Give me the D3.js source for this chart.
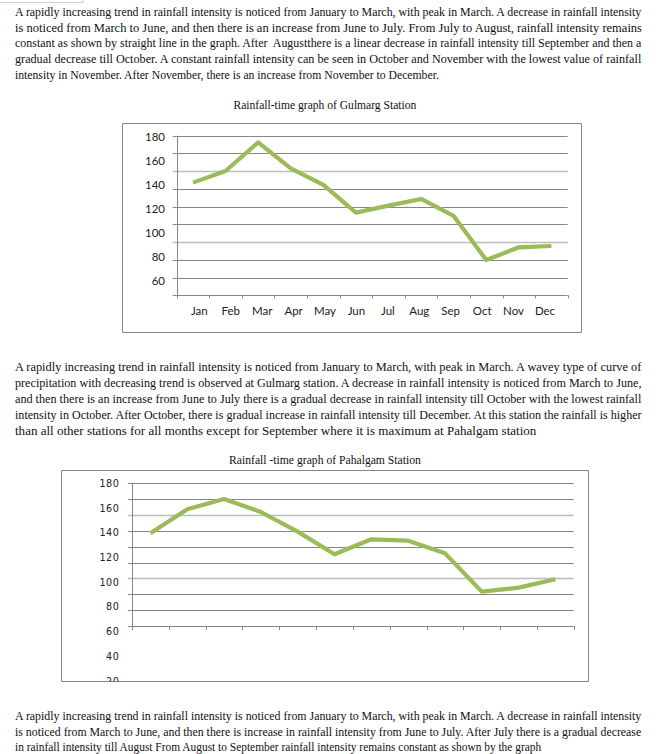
<!DOCTYPE html>
<html><head><meta charset="utf-8">
<script src="https://cdn.jsdelivr.net/npm/d3@7"></script>
<style>html,body{margin:0;padding:0;background:#fff;}svg{display:block;}</style>
</head><body>
<script>
// ---------- data ----------
const months = ["Jan","Feb","Mar","Apr","May","Jun","Jul","Aug","Sep","Oct","Nov","Dec"];
const gulmargRain = [141.7, 151.4, 175.3, 153.6, 139.8, 116.7, 122.5, 128.1, 113.9, 77.2, 87.8, 88.9];
const pahalgamRain = [139.6, 159.0, 167.3, 156.8, 140.9, 122.6, 134.7, 133.6, 123.4, 92.4, 95.6, 102.4];
const gulmargTicks = [180, 160, 140, 120, 100, 80, 60];
const pahalgamTicks = [180, 160, 140, 120, 100, 80, 60, 40, 20];
const gulmargTitle = "Rainfall-time graph of Gulmarg Station";
const pahalgamTitle = "Rainfall -time graph of Pahalgam Station";
const para1 = [
 "A rapidly increasing trend in rainfall intensity is noticed from January to March, with peak in March. A decrease in rainfall intensity",
 "is noticed from March to June, and then there is an increase from June to July. From July to August, rainfall intensity remains",
 "constant as shown by straight line in the graph. After  Augustthere is a linear decrease in rainfall intensity till September and then a",
 "gradual decrease till October. A constant rainfall intensity can be seen in October and November with the lowest value of rainfall",
 "intensity in November. After November, there is an increase from November to December."
];
const para2 = [
 "A rapidly increasing trend in rainfall intensity is noticed from January to March, with peak in March. A wavey type of curve of",
 "precipitation with decreasing trend is observed at Gulmarg station. A decrease in rainfall intensity is noticed from March to June,",
 "and then there is an increase from June to July there is a gradual decrease in rainfall intensity till October with the lowest rainfall",
 "intensity in October. After October, there is gradual increase in rainfall intensity till December. At this station the rainfall is higher",
 "than all other stations for all months except for September where it is maximum at Pahalgam station"
];
const para3 = [
 "A rapidly increasing trend in rainfall intensity is noticed from January to March, with peak in March. A decrease in rainfall intensity",
 "is noticed from March to June, and then there is increase in rainfall intensity from June to July. After July there is a gradual decrease",
 "in rainfall intensity till August From August to September rainfall intensity remains constant as shown by the graph"
];

// ---------- page ----------
const W = 671, H = 754;
const svg = d3.select("body").append("svg").attr("width", W).attr("height", H);
svg.append("rect").attr("width", W).attr("height", H).attr("fill", "#fff");

// small stray frame at top-left
svg.append("path").attr("d", "M0,2.5H83V0").attr("fill", "none").attr("stroke", "#cfcfcf").attr("stroke-width", 1);

const SERIF = "'Liberation Serif','Times New Roman',serif";

// text squeezed horizontally to an exact width (like the condensed scan)
function fitText(parent, str, x, y, width, size, anchor) {
  const t = parent.append("text")
    .attr("x", 0).attr("y", 0)
    .attr("dominant-baseline", "central")
    .attr("font-family", SERIF).attr("font-size", size).attr("fill", "#111")
    .attr("xml:space", "preserve")
    .text(str);
  const len = t.node().getComputedTextLength();
  const sx = width / len;
  const left = anchor === "middle" ? x - width / 2 : x;
  t.attr("transform", `translate(${left},${y}) scale(${sx},1)`);
  return t;
}

function paragraph(lines, top, step, lastEnd) {
  const g = svg.append("g");
  lines.forEach((t, i) => {
    const last = i === lines.length - 1;
    fitText(g, t, 15, top + i * step, last ? lastEnd - 15 : 627, 13, "start");
  });
}
paragraph(para1, 12, 15.6, 439);
paragraph(para2, 367, 16, 537);
paragraph(para3, 716, 15.5, 542);

const GRID = "#868686", LIGHT = "#bdbdbd", LINE = "#9BBB59";

function chart(cfg) {
  const g = svg.append("g");
  // title
  fitText(g, cfg.title, cfg.titleX, cfg.titleY, cfg.titleW, 12.5, "middle");
  // frame
  const b = cfg.box;
  g.append("path")
    .attr("d", `M${b.x0},${b.y1}V${b.y0}H${b.x1}V${b.y1}H${b.x0}`)
    .attr("fill", "none").attr("stroke", GRID).attr("stroke-width", 1);

  const y = d3.scaleLinear().domain(cfg.yDomain).range(cfg.yRange);
  const x = d3.scaleBand().domain(months).range(cfg.xRange).paddingInner(0).paddingOuter(0);
  const [lo, hi] = cfg.yDomain;
  const gridVals = d3.range(10).map(i => lo + i * (hi - lo) / 9);

  // horizontal grid lines (with left tick stubs)
  g.selectAll("line.grid").data(gridVals).join("line")
    .attr("x1", cfg.xRange[0] - cfg.stub).attr("x2", cfg.xRange[1])
    .attr("y1", d => Math.round(y(d)) + 0.5).attr("y2", d => Math.round(y(d)) + 0.5)
    .attr("stroke", (d, i) => (i === 3 || i === 7) ? LIGHT : GRID)
    .attr("stroke-width", (d, i) => (i === 3 || i === 7) ? 1.6 : 1);
  // vertical axis
  const ax = Math.round(cfg.xRange[0]) + 0.5;
  g.append("line").attr("x1", ax).attr("x2", ax)
    .attr("y1", y(hi)).attr("y2", y(lo) + cfg.tickDown).attr("stroke", GRID);
  // x ticks at band edges
  const edges = months.map(m => x(m)).concat([cfg.xRange[1]]);
  g.selectAll("line.xt").data(edges).join("line")
    .attr("x1", d => Math.round(d) + 0.5).attr("x2", d => Math.round(d) + 0.5)
    .attr("y1", y(lo)).attr("y2", y(lo) + cfg.tickDown).attr("stroke", GRID);

  // y labels
  const clipId = "clip" + cfg.id;
  g.append("clipPath").attr("id", clipId).append("rect")
    .attr("x", b.x0).attr("y", b.y0).attr("width", b.x1 - b.x0).attr("height", b.y1 - b.y0);
  g.append("g").attr("clip-path", `url(#${clipId})`)
    .selectAll("text").data(cfg.ticks).join("text")
    .attr("x", cfg.labelX).attr("y", d => y(d))
    .attr("text-anchor", "end").attr("dominant-baseline", "central")
    .attr("font-family", cfg.labelFont).attr("font-size", cfg.labelSize)
    .attr("letter-spacing", cfg.labelSpacing).attr("fill", "#222")
    .text(d => d);

  // month labels
  if (cfg.monthRange) {
    const xl = d3.scalePoint().domain(months).range(cfg.monthRange);
    g.selectAll("text.m").data(months).join("text")
      .attr("x", d => xl(d)).attr("y", cfg.monthY)
      .attr("text-anchor", "middle").attr("dominant-baseline", "central")
      .attr("font-family", cfg.labelFont).attr("font-size", cfg.labelSize).attr("fill", "#222")
      .text(d => d);
  }

  // data line
  const line = d3.line().x((d, i) => x(months[i]) + x.bandwidth() / 2).y(d => y(d));
  g.append("path").datum(cfg.values).attr("d", line)
    .attr("fill", "none").attr("stroke", LINE).attr("stroke-width", 4.2)
    .attr("stroke-linejoin", "round").attr("stroke-linecap", "butt");
}

chart({
  id: 1, title: gulmargTitle, titleX: 325, titleY: 105, titleW: 183,
  box: {x0: 122.5, y0: 123.5, x1: 581.5, y1: 332.5},
  yDomain: [47.8, 180.8], yRange: [295.3, 135.7], xRange: [176.7, 567.7],
  stub: 4, tickDown: 3, ticks: gulmargTicks, values: gulmargRain,
  labelX: 165, labelFont: "Lato,'Open Sans',sans-serif", labelSize: 11.5, labelSpacing: 0,
  monthRange: [199.3, 545], monthY: 310.7
});

chart({
  id: 2, title: pahalgamTitle, titleX: 325, titleY: 460, titleW: 192,
  box: {x0: 61.5, y0: 470.5, x1: 588.5, y1: 681.5},
  yDomain: [64.6, 180], yRange: [626, 483.3], xRange: [132, 573.8],
  stub: 4, tickDown: 4, ticks: pahalgamTicks, values: pahalgamRain,
  labelX: 119.3, labelFont: "'DejaVu Sans',Verdana,sans-serif", labelSize: 9.6, labelSpacing: 0.5,
  monthRange: null
});
</script>
</body></html>
